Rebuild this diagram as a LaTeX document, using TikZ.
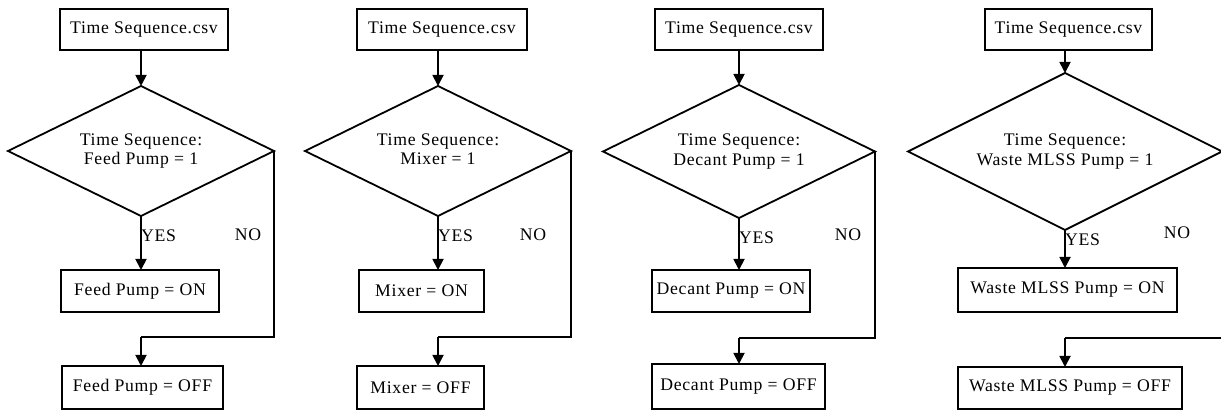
\documentclass[tikz,border=0pt]{standalone}
\usepackage{fontspec}
\setmainfont{Liberation Serif}[LetterSpace=4]
\usetikzlibrary{shapes.geometric,arrows.meta}
\newcommand{\dtext}[2]{\raisebox{-4pt}{\begin{tabular}{@{}c@{}}#1\\#2\end{tabular}}}
\begin{document}
\begin{tikzpicture}[x=1pt,y=-1pt,
  every node/.style={font=\fontsize{17.7}{19.5}\selectfont},
  box/.style={draw, line width=1.8pt, inner sep=0pt, outer sep=0pt},
  dec/.style={draw, diamond, line width=1.8pt, inner sep=0pt, outer sep=0pt, aspect=2, align=center},
  lbl/.style={inner sep=1pt},
  arr/.style={line width=1.8pt, -{Triangle[length=11pt,width=11pt]}},
  ln/.style={line width=1.8pt}]
\useasboundingbox (0,0) rectangle (1221,411);
\fill[white] (0,0) rectangle (1221,411);
\clip (0,0) rectangle (1221,411);

% ---------- Panel 1 ----------
\node[box, minimum width=168pt, minimum height=41pt] (csv1) at (144,29.5) {Time Sequence.csv};
\node[dec, minimum width=266pt, minimum height=130pt] (dia1) at (141,151) {\dtext{Time Sequence:}{Feed Pump = 1}};
\node[box, minimum width=158pt, minimum height=42pt] (on1) at (140,291) {Feed Pump = ON};
\node[box, minimum width=161pt, minimum height=43pt] (off1) at (142.5,387.5) {Feed Pump = OFF};
\node[lbl, anchor=west] (yes1) at (140,236) {YES};
\node[lbl] (no1) at (248,235) {NO};
\coordinate (turn1) at (141,337);
\draw[arr] (dia1.north |- csv1.south) -- (dia1.north);
\draw[arr] (dia1.south) -- (dia1.south |- on1.north);
\draw[ln] (dia1.east) |- (turn1);
\draw[arr] (turn1) -- (turn1 |- off1.north);

% ---------- Panel 2 ----------
\node[box, minimum width=170pt, minimum height=41pt] (csv2) at (442,29.5) {Time Sequence.csv};
\node[dec, minimum width=266pt, minimum height=130pt] (dia2) at (438,151) {\dtext{Time Sequence:}{Mixer = 1}};
\node[box, minimum width=125pt, minimum height=42pt] (on2) at (421.5,291) {Mixer = ON};
\node[box, minimum width=127pt, minimum height=43pt] (off2) at (420.5,387.5) {Mixer = OFF};
\node[lbl, anchor=west] (yes2) at (437,236) {YES};
\node[lbl] (no2) at (533,235) {NO};
\coordinate (turn2) at (438,337);
\draw[arr] (dia2.north |- csv2.south) -- (dia2.north);
\draw[arr] (dia2.south) -- (dia2.south |- on2.north);
\draw[ln] (dia2.east) |- (turn2);
\draw[arr] (turn2) -- (turn2 |- off2.north);

% ---------- Panel 3 ----------
\node[box, minimum width=168pt, minimum height=41pt] (csv3) at (739,29.5) {Time Sequence.csv};
\node[dec, minimum width=272pt, minimum height=133pt] (dia3) at (739,151.5) {\dtext{Time Sequence:}{Decant Pump = 1}};
\node[box, minimum width=158pt, minimum height=42pt] (on3) at (731,291) {Decant Pump = ON};
\node[box, minimum width=173pt, minimum height=45pt] (off3) at (738.5,386.5) {Decant Pump = OFF};
\node[lbl, anchor=west] (yes3) at (738,238) {YES};
\node[lbl] (no3) at (848,235) {NO};
\coordinate (turn3) at (739,338);
\draw[arr] (dia3.north |- csv3.south) -- (dia3.north);
\draw[arr] (dia3.south) -- (dia3.south |- on3.north);
\draw[ln] (dia3.east) |- (turn3);
\draw[arr] (turn3) -- (turn3 |- off3.north);

% ---------- Panel 4 ----------
\node[box, minimum width=167pt, minimum height=41pt] (csv4) at (1068.5,29.5) {Time Sequence.csv};
\node[dec, minimum width=314pt, minimum height=157pt] (dia4) at (1065,151.5) {\dtext{Time Sequence:}{Waste MLSS Pump = 1}};
\node[box, minimum width=219pt, minimum height=44pt] (on4) at (1067.5,290) {Waste MLSS Pump = ON};
\node[box, minimum width=224pt, minimum height=42pt] (off4) at (1070,388) {Waste MLSS Pump = OFF};
\node[lbl, anchor=west] (yes4) at (1064,240) {YES};
\node[lbl] (no4) at (1177,233) {NO};
\coordinate (turn4) at (1065,338);
\draw[arr] (dia4.north |- csv4.south) -- (dia4.north);
\draw[arr] (dia4.south) -- (dia4.south |- on4.north);
\draw[ln] (dia4.east) |- (turn4);
\draw[arr] (turn4) -- (turn4 |- off4.north);
\end{tikzpicture}
\end{document}
